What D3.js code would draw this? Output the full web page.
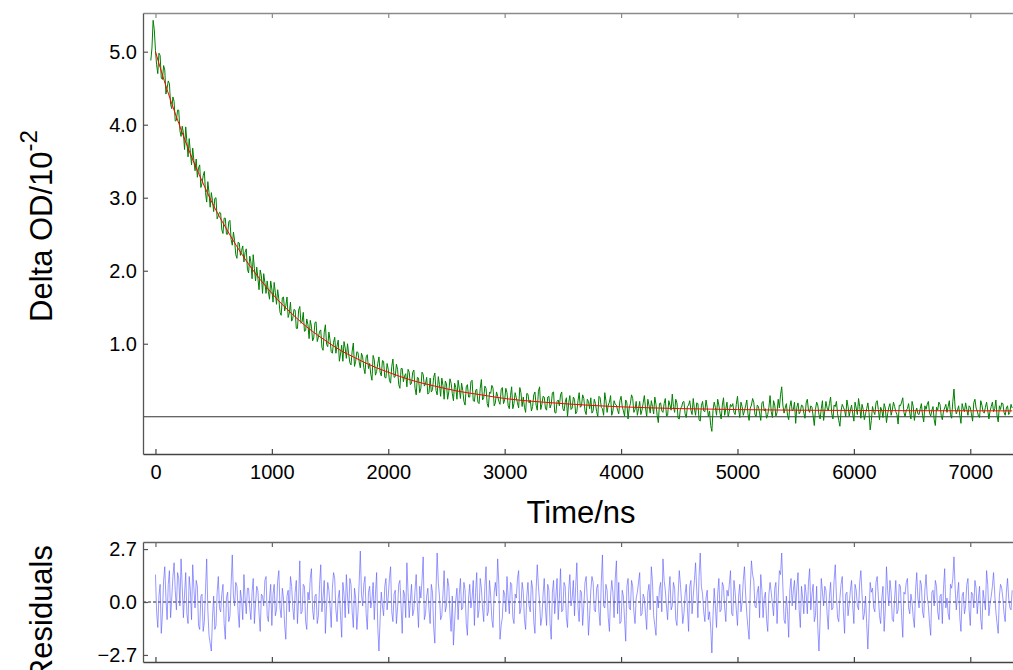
<!DOCTYPE html>
<html><head><meta charset="utf-8">
<script src="https://cdn.jsdelivr.net/npm/d3@7"></script>
<style>
html,body{margin:0;padding:0;background:#fff;}
svg{display:block;font-family:"Liberation Sans",Arial,sans-serif;}
</style></head>
<body>
<svg id="chart" width="1013" height="670"></svg>
<script>
// ---- data ----
const timeStart = -40;      // ns, first sample of the transient
const timeStep = 20;        // ns between samples of each array
const halfStep = 10;        // the "Mid" arrays hold the samples taken halfway between
const residStart = 0;       // ns, first residual sample
const xTicks = [0,1000,2000,3000,4000,5000,6000,7000];
const yTicks = [1,2,3,4,5];
const residTicks = [-2.7,0,2.7];

// Delta OD / 10^-2 (green trace), samples at -40, -20, 0, 20 ... ns
const deltaOD = [
4.88,5.43,5.02,4.70,4.95,4.62,4.75,4.50,4.56,4.22,
4.32,4.06,4.20,3.84,3.89,3.97,3.56,3.62,3.68,3.37,
3.28,3.45,3.20,3.36,2.94,3.07,3.07,2.81,3.00,2.75,
2.79,2.51,2.72,2.50,2.69,2.35,2.41,2.17,2.38,2.28,
2.12,2.30,1.97,2.12,2.22,1.86,1.90,2.01,1.69,1.84,
1.86,1.61,1.75,1.84,1.54,1.61,1.39,1.64,1.52,1.36,
1.57,1.35,1.46,1.21,1.51,1.30,1.17,1.34,1.07,1.24,
1.08,1.30,1.09,1.19,0.91,1.26,0.96,1.05,0.87,1.09,
0.97,0.76,0.98,1.03,0.80,0.86,0.71,1.01,0.76,0.88,
0.67,0.82,0.59,0.85,0.73,0.50,0.78,0.62,0.82,0.56,
0.76,0.53,0.65,0.46,0.79,0.55,0.65,0.39,0.66,0.56,
0.41,0.61,0.46,0.64,0.30,0.53,0.39,0.58,0.45,0.31,
0.53,0.37,0.60,0.30,0.44,0.53,0.24,0.45,0.34,0.46,
0.22,0.40,0.50,0.25,0.36,0.16,0.44,0.27,0.50,0.21,
0.38,0.18,0.51,0.26,0.39,0.13,0.32,0.39,0.19,0.28,
0.17,0.40,0.23,0.33,0.11,0.41,0.18,0.26,0.12,0.33,
0.27,0.06,0.31,0.23,0.14,0.34,0.09,0.41,0.17,0.27,
0.09,0.28,0.17,0.34,0.05,0.23,0.30,0.11,0.20,0.00,
0.29,0.12,0.24,0.07,0.33,0.15,0.25,0.03,0.21,0.26,
0.08,0.18,0.00,0.26,0.11,0.33,0.06,0.20,0.02,0.22,
0.16,0.04,0.28,0.08,0.23,-0.03,0.18,0.25,0.10,0.02,
0.21,0.09,0.29,0.00,0.16,0.22,0.04,0.17,-0.08,0.19,
0.06,0.25,0.02,0.16,0.31,0.06,0.19,-0.03,0.13,0.21,
-0.01,0.16,0.09,0.25,0.02,0.18,-0.06,0.21,0.07,0.13,
0.08,-0.20,0.20,0.02,0.16,-0.03,0.26,0.11,0.00,0.17,
0.18,0.03,0.28,-0.01,0.14,0.08,0.23,-0.05,0.16,0.20,
0.00,0.14,-0.05,0.21,0.11,0.03,0.29,-0.01,0.16,0.06,
0.12,0.41,0.05,0.18,-0.04,0.22,0.10,-0.09,0.19,0.07,
0.15,-0.02,0.24,0.06,0.13,-0.12,0.20,0.03,0.11,-0.05,
0.21,0.08,0.27,-0.03,0.14,0.04,-0.13,0.17,0.09,0.23,
0.01,0.16,-0.06,0.12,0.25,-0.02,0.10,0.04,0.19,-0.18,
0.14,0.03,0.22,-0.04,0.09,0.18,-0.08,0.13,0.02,0.20,
0.07,-0.10,0.15,0.26,0.00,0.11,0.05,0.21,-0.05,0.12,
0.03,0.18,-0.07,0.10,0.21,0.01,0.14,-0.12,0.09,0.17,
-0.04,0.12,0.06,0.22,-0.02,0.38,0.04,0.15,-0.09,0.11,
0.19,0.02,0.13,-0.06,0.24,0.08,-0.01,0.16,0.05,0.20,
-0.03,0.14,0.07,0.23,-0.07,0.10,0.18,0.02,0.15,0.06,
0.12
];
// Delta OD samples at -30, -10, 10, 30 ... ns
const deltaODMid = [
5.05,5.30,4.82,4.98,4.64,4.81,4.42,4.60,4.28,4.38,
4.05,4.20,3.92,3.98,3.66,3.77,3.81,3.45,3.51,3.53,
3.41,3.14,3.30,3.07,3.22,2.87,2.96,2.99,2.71,2.80,
2.56,2.72,2.50,2.67,2.43,2.53,2.22,2.39,2.21,2.34,
2.25,2.02,2.20,1.89,2.03,2.05,1.74,1.93,1.96,1.69,
1.71,1.86,1.57,1.70,1.74,1.43,1.63,1.45,1.64,1.42,
1.31,1.47,1.21,1.46,1.28,1.43,1.18,1.26,1.32,1.04,
1.29,1.03,1.17,0.95,1.16,0.99,1.16,0.89,1.02,0.87,
1.05,0.86,0.76,0.94,1.00,0.74,0.90,0.69,0.89,0.75,
0.87,0.67,0.82,0.66,0.58,0.84,0.57,0.73,0.61,0.77,
0.54,0.73,0.50,0.69,0.54,0.72,0.44,0.66,0.48,0.59,
0.65,0.44,0.61,0.39,0.54,0.33,0.61,0.42,0.54,0.33,
0.34,0.54,0.36,0.55,0.28,0.43,0.49,0.24,0.52,0.32,
0.46,0.24,0.39,0.46,0.21,0.41,0.27,0.48,0.22,0.36,
0.20,0.39,0.23,0.42,0.18,0.34,0.43,0.15,0.34,0.21,
0.37,0.18,0.39,0.15,0.29,0.11,0.33,0.19,0.40,0.14,
0.13,0.32,0.19,0.08,0.30,0.16,0.35,0.10,0.28,0.12,
0.27,0.12,0.33,0.06,0.21,0.15,0.34,0.08,0.26,0.19,
0.10,0.27,0.04,0.22,0.13,0.30,0.08,0.24,0.11,0.05,
0.24,0.07,0.28,0.13,0.02,0.22,0.16,0.29,0.08,0.17,
0.09,0.22,0.14,0.01,0.19,0.12,0.30,0.06,0.21,0.11,
0.03,0.19,0.12,0.24,0.05,0.14,0.27,0.02,0.18,0.08,
0.18,0.01,0.22,0.09,0.14,0.24,-0.02,0.12,0.20,0.04,
0.14,0.22,0.03,0.11,0.19,-0.04,0.15,0.08,0.23,0.00,
-0.12,0.09,0.13,0.24,0.05,0.16,0.02,0.20,0.07,0.14,
0.06,0.17,0.10,0.20,0.02,0.15,0.04,0.12,0.25,0.03,
0.16,0.05,0.19,0.08,-0.02,0.13,0.07,0.22,0.01,0.24,
0.30,0.16,0.12,0.02,0.14,0.08,0.20,0.13,0.04,0.16,
0.05,0.19,0.09,0.15,0.01,0.10,0.16,-0.03,0.22,0.08,
0.12,0.18,0.04,0.16,0.21,-0.05,0.08,0.13,0.00,0.14,
0.09,0.04,0.20,0.03,0.14,0.17,-0.04,0.11,0.06,-0.05,
0.07,0.19,0.10,0.13,-0.01,0.12,0.04,0.18,0.09,0.14,
0.03,0.16,0.20,0.06,0.09,0.18,-0.03,0.14,0.07,0.04,
0.11,0.02,0.15,0.17,0.05,0.09,-0.04,0.13,0.20,0.02,
0.08,0.17,0.14,0.03,0.21,0.12,0.09,0.02,0.18,0.07,
0.10,0.15,0.04,0.19,0.12,0.01,0.22,0.07,0.13,0.09,
0.08,0.20,0.11,0.01,0.15,0.19,0.06,0.12,0.03,0.17
];

// fitted curve (red), time in ns and value
const fitTime = [0,100,200,300,400,500,600,700,800,900,1000,1100,1200,1300,1400,1500,1600,1700,1800,1900,2000,2200,2400,2600,2800,3000,3250,3500,3750,4000,4500,5000,5500,6000,6500,7000,7360];
const fitValue = [5.00,4.48,4.02,3.60,3.23,2.89,2.60,2.33,2.09,1.88,1.69,1.52,1.37,1.23,1.11,1.00,0.90,0.82,0.74,0.67,0.61,0.50,0.42,0.35,0.30,0.25,0.21,0.18,0.155,0.136,0.112,0.098,0.090,0.086,0.083,0.082,0.081];

// residuals (blue), samples at 0, 20, 40 ... ns
const residuals = [
1.4,-1.3,0.9,-0.6,1.8,-0.9,1.6,0.2,2.0,-0.4,
1.2,2.2,-0.8,1.5,-1.1,0.6,1.9,-0.3,0.8,-1.4,
0.4,-1.0,2.2,-1.7,-2.5,0.3,-1.2,1.3,-0.5,0.9,
-1.9,0.5,-0.7,2.4,-0.2,0.8,-1.3,0.1,1.4,-0.6,
0.7,-0.9,1.2,-0.1,0.6,-1.5,0.3,1.1,-0.7,0.2,
-1.2,0.9,-0.4,1.6,-0.8,0.2,-1.9,0.6,1.3,-0.3,
0.5,-1.1,2.1,-0.5,0.8,-1.4,0.1,1.7,-0.9,0.4,
-0.7,1.9,0.3,-1.6,1.0,-0.2,0.7,1.2,-1.0,0.6,
-1.8,0.4,1.4,-0.6,0.9,-1.3,0.2,-0.5,2.6,-0.2,
1.3,-1.4,0.8,0.1,-0.9,1.5,-2.5,0.5,-0.7,1.2,
0.3,1.8,-1.0,0.6,-0.3,1.1,-1.6,0.4,2.0,-0.8,
0.9,-0.4,1.4,-1.3,0.2,2.3,-0.6,0.7,-1.1,0.5,
-2.1,2.5,0.3,-0.7,1.6,-0.2,0.8,-1.5,-2.2,0.1,
-0.9,1.2,-0.3,0.6,-1.7,0.9,0.2,-1.2,1.5,-0.4,
0.7,-1.0,1.8,-0.5,0.3,-1.3,1.0,2.2,-1.9,-0.8,
0.4,1.3,-0.6,0.9,-1.1,0.2,1.6,-0.3,0.5,-1.4,
1.0,-0.5,0.7,-1.6,1.9,0.0,-0.8,1.2,-1.2,0.6,
-1.9,1.1,0.3,-0.9,1.7,-0.4,0.8,-1.3,1.4,0.2,
-0.7,2.0,-1.0,0.5,-0.2,1.3,-1.7,0.6,1.0,-0.5,
0.9,-1.2,2.4,-0.3,0.6,-1.5,1.1,-0.8,2.1,1.0,
-1.0,0.3,-2.0,1.2,-0.4,0.8,-1.1,0.5,1.5,-0.6,
0.2,-1.4,0.9,1.8,-0.7,-1.7,-0.3,1.0,2.2,0.6,
-0.9,1.3,-0.2,0.7,-1.2,1.6,0.0,-0.6,0.9,-1.5,
1.1,0.3,2.0,-0.8,2.5,0.4,-1.0,0.6,-0.5,-2.6,
0.7,-1.3,1.2,-0.4,0.8,-1.0,0.3,1.6,-0.7,0.5,
-1.2,0.9,0.0,1.8,-0.6,-1.9,2.1,1.1,-0.3,0.8,
1.4,-0.8,0.5,-1.5,1.0,-0.1,0.7,-1.1,1.6,2.5,
-0.9,0.3,-1.8,1.2,0.6,-0.4,1.5,-1.3,0.2,0.9,
-0.6,1.7,0.4,-1.0,0.8,-2.5,1.2,-0.2,0.6,-1.4,
1.0,-0.3,1.9,-0.8,0.2,1.3,-1.6,0.5,-0.1,1.1,
-1.1,0.6,-0.4,1.6,-0.9,0.3,-2.4,1.0,0.7,-0.5,
1.3,-0.7,0.2,-1.5,1.8,-0.2,0.5,-1.0,1.1,-0.4,
0.8,-1.8,0.4,1.2,-0.6,0.0,-1.3,1.5,-0.3,0.9,
-0.8,1.4,-0.2,-1.7,0.6,1.1,-0.5,0.3,-1.1,1.7,
0.2,-0.9,0.7,2.3,-0.4,1.0,-1.5,0.5,-0.2,1.2,
-1.2,0.4,1.1,-0.6,0.8,-1.4,0.1,1.6,-0.7,0.3,
1.5,-0.5,-1.6,0.9,0.2,-1.0,1.2,-0.3,0.6
];
// residual samples at 10, 30, 50 ... ns
const residualsMid = [
-0.5,0.3,-1.6,1.1,0.2,0.9,-0.8,1.3,0.6,1.5,
-0.2,0.8,0.4,-0.6,1.3,-0.9,0.7,1.1,-1.2,0.3,
-1.5,0.6,-0.4,-2.1,-0.8,-1.4,0.5,-0.3,0.4,-1.1,
0.2,-1.0,0.9,0.3,1.0,-0.5,0.6,-0.9,0.2,0.7,
-0.3,0.5,-1.1,0.8,-0.6,0.4,-0.2,1.3,-1.0,0.9,
0.4,-0.7,1.1,-0.3,0.7,-1.2,0.3,-0.5,0.8,-0.9,
1.1,0.2,-0.6,0.9,-1.0,0.5,1.2,-0.4,0.3,-1.1,
0.9,-0.5,1.1,-0.2,0.6,-1.3,1.5,-0.4,0.2,-0.7,
1.0,-0.8,0.3,1.2,-0.5,0.7,-1.4,1.0,0.4,0.9,
-0.6,0.5,-0.3,1.0,0.4,-1.3,-0.9,-0.2,0.8,-0.4,
1.2,-0.5,0.4,-1.1,0.9,-0.2,0.6,-0.8,0.5,0.1,
-0.7,0.6,-0.2,0.8,1.1,-0.9,0.3,-0.4,0.9,-1.3,
0.6,1.0,-0.9,0.4,-0.5,1.2,-0.6,0.3,-1.0,0.7,
0.4,-0.4,1.0,-1.1,0.2,-0.3,1.1,0.5,-0.8,1.2,
-0.3,0.8,-0.7,1.1,-0.9,0.5,0.3,0.9,-1.2,0.6,
-0.5,0.2,1.0,-0.8,0.4,1.2,-0.6,1.0,-0.9,0.3,
-0.2,1.1,-1.0,0.6,0.8,-1.2,0.4,-0.3,0.9,-1.1,
0.5,-0.6,1.2,0.2,-0.5,1.0,-0.8,0.6,-0.2,1.1,
0.8,-0.3,0.6,-1.2,1.0,0.1,-0.7,1.3,-0.4,0.7,
-0.5,1.0,-0.2,0.9,-0.8,0.3,0.5,1.2,-0.6,-1.1,
0.6,-0.9,0.8,-0.3,1.1,-0.5,0.2,1.0,-0.7,0.4,
-0.6,0.5,-0.4,1.0,-1.2,0.3,0.7,-0.5,1.1,-0.2,
0.5,-0.4,1.0,-0.9,0.3,0.9,-1.1,0.4,-0.3,0.8,
-0.6,1.1,0.6,1.3,0.8,-0.5,0.2,-0.9,-1.3,-0.7,
-0.2,0.4,-0.5,1.0,-0.3,0.6,0.9,-0.6,1.1,-0.4,
0.3,-0.5,1.1,0.4,-1.3,0.7,1.4,-0.2,0.5,-0.8,
0.6,0.2,-0.9,0.4,0.5,-0.7,1.0,0.3,1.4,0.8,
-1.1,-0.5,0.6,-0.2,1.1,0.7,-0.4,0.8,-0.6,0.4,
1.0,-0.4,0.9,-0.7,-1.3,-0.9,0.5,0.8,-0.6,0.3,
-0.4,1.1,0.3,-1.0,0.9,-0.5,0.4,-0.7,0.6,-0.2,
0.9,-0.2,1.0,0.4,-0.6,-1.1,-0.8,0.5,-0.3,1.0,
0.3,-1.1,0.8,-0.4,0.6,1.1,-0.9,0.2,-0.6,0.9,
-0.7,0.5,1.0,-0.3,0.4,-0.8,0.6,0.2,1.1,-0.5,
0.6,0.3,-1.1,0.5,-0.2,0.8,-0.9,0.4,0.7,-0.3,
-0.6,0.9,1.2,0.7,0.4,-0.8,0.3,-0.6,0.9,-0.4,
0.5,-0.3,0.7,0.2,-0.9,0.6,-0.4,0.9,-0.1,0.8,
0.4,-1.1,0.3,0.7,-0.6,0.5,0.2,-0.4
];

// ---- drawing ----
const svg = d3.select("#chart");
const FONT = '"Liberation Sans",Arial,sans-serif';
const L = 143, R = 1013;
const mainTop = 13, mainBottom = 454;
const resTop = 542, resBottom = 662;

const x = d3.scaleLinear().domain([-107, 7367]).range([L, R]);
const y = d3.scaleLinear().domain([-0.51, 5.53]).range([mainBottom, mainTop]);
const yr = d3.scaleLinear().domain([-3.06, 3.06]).range([resBottom, resTop]);

// interleave the two sample sets in time order
const interleave = (a, b) => d3.merge(a.map((v, i) => i < b.length ? [v, b[i]] : [v]));
const traceData = interleave(deltaOD, deltaODMid);
const residData = interleave(residuals, residualsMid);

function styleAxis(g, color) {
  g.select(".domain").attr("stroke", color).attr("stroke-width", 1.3);
  g.selectAll(".tick line").attr("stroke", color).attr("stroke-width", 1.2);
  g.selectAll(".tick text").attr("fill", "#000").style("font-family", FONT).style("font-size", "20px");
}

// zero line in main plot
svg.append("line").attr("x1", L).attr("x2", R).attr("y1", y(0)).attr("y2", y(0))
  .attr("stroke", "#333").attr("stroke-width", 1);

// data trace
svg.append("path").datum(traceData)
  .attr("fill", "none").attr("stroke", "#008000").attr("stroke-width", 1)
  .attr("d", d3.line().x((d, i) => x(timeStart + i * halfStep)).y(d => y(d)));

// fit
svg.append("path").datum(fitValue)
  .attr("fill", "none").attr("stroke", "#ff0000").attr("stroke-width", 1)
  .attr("d", d3.line().x((d, i) => x(fitTime[i])).y(d => y(d)).curve(d3.curveMonotoneX));

// main axes
const gTop = svg.append("g").attr("transform", `translate(0,${mainTop})`)
  .call(d3.axisTop(x).tickValues(xTicks).tickSize(-5).tickSizeOuter(0).tickFormat(""));
styleAxis(gTop, "#8a8a8a");
const gBottom = svg.append("g").attr("transform", `translate(0,${mainBottom})`)
  .call(d3.axisBottom(x).tickValues(xTicks).tickSize(-5).tickSizeOuter(0).tickPadding(11).tickFormat(d3.format("d")));
styleAxis(gBottom, "#444");
const gLeft = svg.append("g").attr("transform", `translate(${L},0)`)
  .call(d3.axisLeft(y).tickValues(yTicks).tickSize(-5).tickSizeOuter(0).tickPadding(6).tickFormat(d3.format(".1f")));
styleAxis(gLeft, "#555");

// axis titles
svg.append("text").attr("x", 581).attr("y", 523).attr("text-anchor", "middle")
  .style("font-family", FONT).style("font-size", "31px").text("Time/ns");
const yt = svg.append("text").attr("transform", "translate(52,322) rotate(-90)")
  .attr("text-anchor", "start").style("font-family", FONT).style("font-size", "31px");
yt.append("tspan").text("Delta OD/10");
yt.append("tspan").attr("dy", -15).style("font-size", "24px").text("-2");

// residuals panel
svg.append("line").attr("x1", L).attr("x2", R).attr("y1", yr(0)).attr("y2", yr(0))
  .attr("stroke", "#222").attr("stroke-width", 1).attr("stroke-dasharray", "3,2");
svg.append("path").datum(residData)
  .attr("fill", "none").attr("stroke", "#5c5cff").attr("stroke-width", 0.9).attr("stroke-opacity", 0.7)
  .attr("d", d3.line().x((d, i) => x(residStart + i * halfStep)).y(d => yr(d)));

const rTop = svg.append("g").attr("transform", `translate(0,${resTop})`)
  .call(d3.axisTop(x).tickValues(xTicks).tickSize(-5).tickSizeOuter(0).tickFormat(""));
styleAxis(rTop, "#666");
const rBottom = svg.append("g").attr("transform", `translate(0,${resBottom})`)
  .call(d3.axisBottom(x).tickValues(xTicks).tickSize(-5).tickSizeOuter(0).tickFormat(""));
styleAxis(rBottom, "#444");
const rLeft = svg.append("g").attr("transform", `translate(${L},0)`)
  .call(d3.axisLeft(yr).tickValues(residTicks).tickSize(-5).tickSizeOuter(0).tickPadding(6).tickFormat(d3.format(".1f")));
styleAxis(rLeft, "#555");

svg.append("text").attr("transform", `translate(52,545) rotate(-90)`)
  .attr("text-anchor", "end").style("font-family", FONT).style("font-size", "31px").text("Residuals");
</script>
</body></html>
